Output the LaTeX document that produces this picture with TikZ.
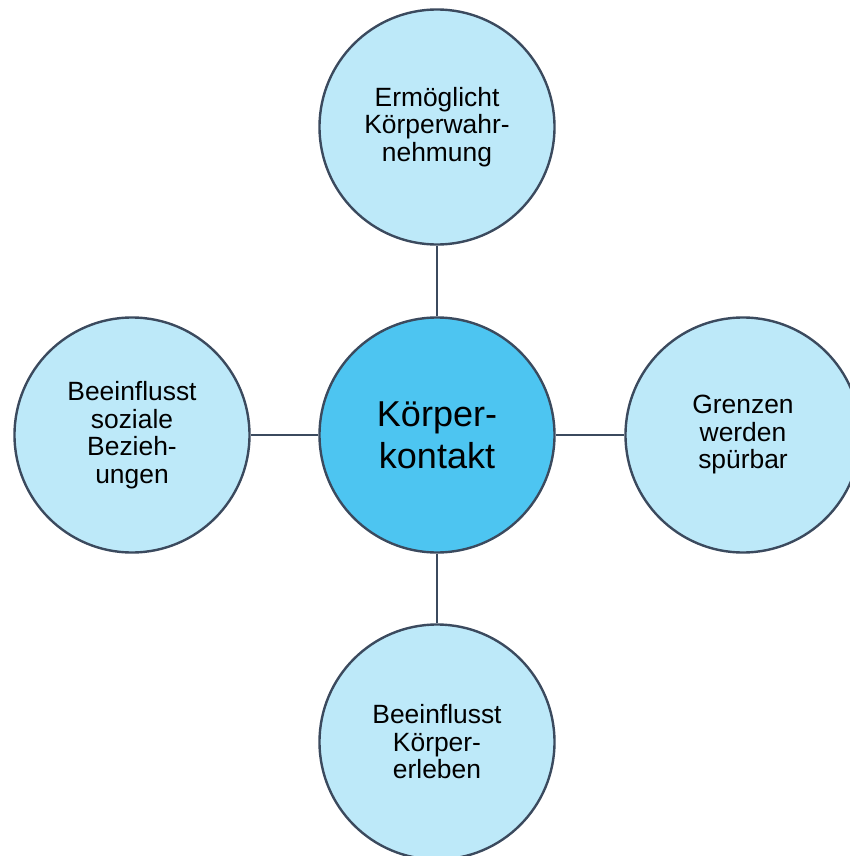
\documentclass[tikz,border=0pt]{standalone}
\usepackage{fontspec}
\setmainfont{Liberation Sans}
\definecolor{bubble}{HTML}{BDE9F9}
\definecolor{core}{HTML}{4DC5F1}
\definecolor{rim}{HTML}{3B4A5E}
\tikzstyle{topic}=[circle, draw=rim, line width=2.4pt, fill=bubble, minimum size=235pt, inner sep=0pt, align=center, font=\fontsize{26.4}{27.5}\selectfont]
\tikzstyle{hub}=[topic, fill=core, font=\fontsize{36}{42}\selectfont]
\tikzstyle{link} = [draw=rim, line width=2.4pt, -]

\begin{document}
\begin{tikzpicture}[x=1pt, y=-1pt]
	    \useasboundingbox (0,0) rectangle (850,856);
	    \clip (0,0) rectangle (850,856);
	    \foreach \pos/\name/\txt in {{(437,127)/up/{Ermöglicht\\Körperwahr-\\nehmung}}, {(132,435)/left/{Beeinflusst\\soziale\\Bezieh-\\ungen}}, {(743,435)/right/{Grenzen\\werden\\spürbar}}, {(437,742)/down/{Beeinflusst\\Körper-\\erleben}}}
	        \node[topic] (\name) at \pos {\txt};
	    \node[hub] (kontakt) at (437,435) {Körper-\\kontakt};
	    \foreach \dest in {up, left, right, down}
			\path[link] (kontakt) -- (\dest);
	\end{tikzpicture}
\end{document}
